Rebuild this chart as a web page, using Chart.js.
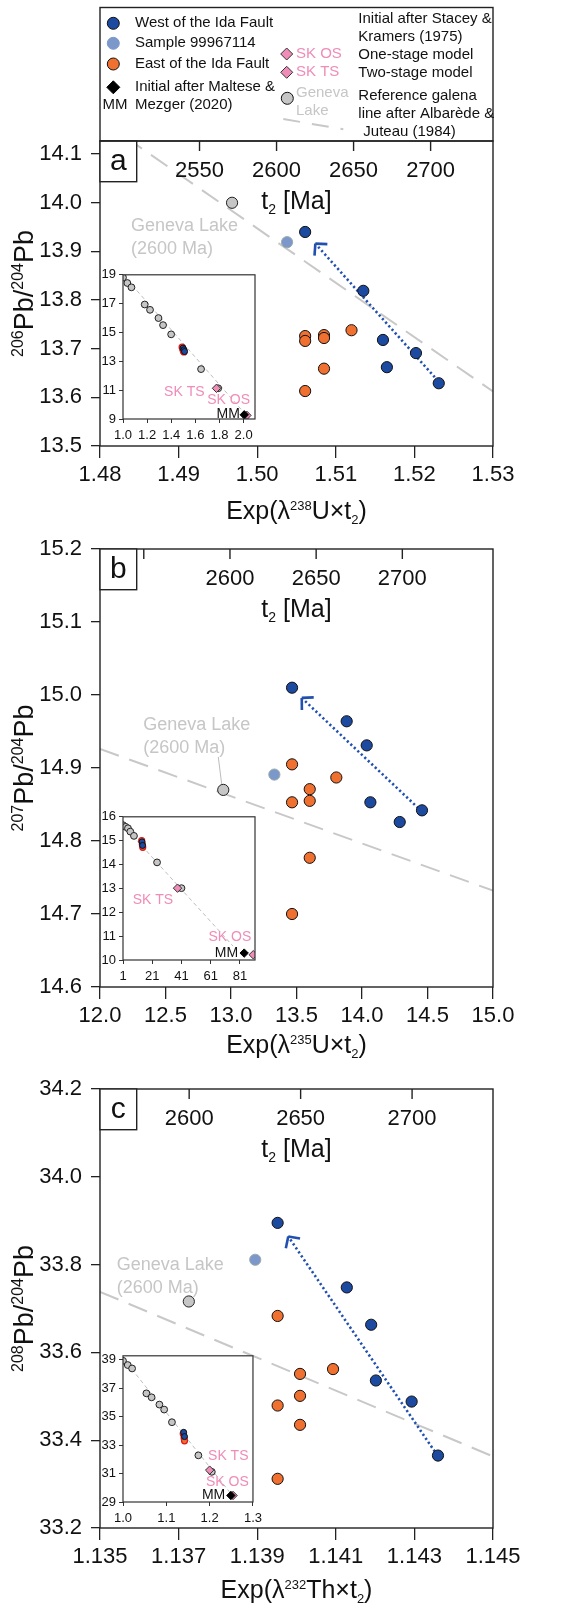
<!DOCTYPE html>
<html>
<head>
<meta charset="utf-8">
<script src="https://cdn.jsdelivr.net/npm/chart.js@4.4.1/dist/chart.umd.min.js"></script>
<style>
  body { margin: 0; background: #fff; }
  #page { position: relative; width: 582px; height: 1605px; overflow: hidden; background: #fff; }
  canvas { position: absolute; }
</style>
</head>
<body>
<div id="page">
  <canvas id="chartA" width="582" height="530" style="left:0px;top:0px"></canvas>
  <canvas id="chartB" width="582" height="550" style="left:0px;top:520px"></canvas>
  <canvas id="chartC" width="582" height="545" style="left:0px;top:1060px"></canvas>
  <canvas id="insetA"></canvas>
  <canvas id="insetB"></canvas>
  <canvas id="insetC"></canvas>
</div>
<script>
// ---- panel a : 206Pb/204Pb vs Exp(λ238U×t2)
const aWestX = [1.5061, 1.5135, 1.5160, 1.5165, 1.5202, 1.5231];
const aWestY = [13.940, 13.819, 13.718, 13.662, 13.691, 13.629];
const aEastX = [1.5061, 1.5061, 1.5085, 1.5085, 1.5085, 1.5120, 1.5061];
const aEastY = [13.726, 13.716, 13.728, 13.722, 13.659, 13.738, 13.613];
const aSampleX = [1.5038], aSampleY = [13.919];
const aGenevaX = [1.4968], aGenevaY = [14.000];
const aArrowX = [1.5230, 1.5074], aArrowY = [13.634, 13.916];
const aRefX = [1.48, 1.53], aRefY = [14.171, 13.612];
const aXTicks = [1.48, 1.49, 1.50, 1.51, 1.52, 1.53];
const aYTicks = [13.5, 13.6, 13.7, 13.8, 13.9, 14.0, 14.1];
const aTTicks = [2550, 2600, 2650, 2700];
const aTLabels = ["2550", "2600", "2650", "2700"];

// ---- panel b : 207Pb/204Pb vs Exp(λ235U×t2)
const bWestX = [13.466, 13.883, 14.036, 14.064, 14.288, 14.458];
const bWestY = [15.010, 14.964, 14.931, 14.853, 14.826, 14.842];
const bEastX = [13.466, 13.466, 13.601, 13.601, 13.804, 13.601, 13.466];
const bEastY = [14.905, 14.853, 14.871, 14.855, 14.887, 14.777, 14.700];
const bSampleX = [13.331], bSampleY = [14.891];
const bGenevaX = [12.941], bGenevaY = [14.870];
const bArrowX = [14.430, 13.540], bArrowY = [14.845, 14.996];
const bRefX = [12.0, 15.0], bRefY = [14.926, 14.732];
const bXTicks = [12.0, 12.5, 13.0, 13.5, 14.0, 14.5, 15.0];
const bYTicks = [14.6, 14.7, 14.8, 14.9, 15.0, 15.1, 15.2];
const bTTicks = [2550, 2600, 2650, 2700];
const bTLabels = ["", "2600", "2650", "2700"];

// ---- panel c : 208Pb/204Pb vs Exp(λ232Th×t2)
const cWestX = [1.13952, 1.14128, 1.14190, 1.14202, 1.14293, 1.14360];
const cWestY = [33.895, 33.748, 33.663, 33.536, 33.488, 33.365];
const cEastX = [1.13952, 1.14009, 1.14093, 1.14009, 1.13952, 1.14009, 1.13952];
const cEastY = [33.683, 33.551, 33.562, 33.501, 33.479, 33.435, 33.312];
const cSampleX = [1.13895], cSampleY = [33.811];
const cGenevaX = [1.13726], cGenevaY = [33.716];
const cArrowX = [1.14352, 1.13979], cArrowY = [33.374, 33.864];
const cRefX = [1.135, 1.145], cRefY = [33.738, 33.363];
const cXTicks = [1.135, 1.137, 1.139, 1.141, 1.143, 1.145];
const cYTicks = [33.2, 33.4, 33.6, 33.8, 34.0, 34.2];
const cTTicks = [2600, 2650, 2700];
const cTLabels = ["2600", "2650", "2700"];

// ---- insets (whole model range)
const iaGreyX = [1.0, 1.036, 1.070, 1.180, 1.224, 1.294, 1.332, 1.399, 1.647, 1.789];
const iaGreyY = [18.81, 18.43, 18.13, 16.94, 16.57, 16.00, 15.51, 14.87, 12.46, 11.13];
const iaEastX = [1.490, 1.495, 1.500, 1.505], iaEastY = [13.98, 13.85, 13.72, 13.65];
const iaWestX = [1.497, 1.505, 1.510], iaWestY = [13.92, 13.80, 13.68];
const iaTsX = [1.775], iaTsY = [11.13];
const iaOsX = [2.027], iaOsY = [9.25];
const iaMmX = [2.005], iaMmY = [9.29];
const iaLineX = [1.0, 2.025], iaLineY = [19.0, 9.23];
const iaXTicks = [1.0, 1.2, 1.4, 1.6, 1.8, 2.0];
const iaYTicks = [9, 11, 13, 15, 17, 19];

const ibGreyX = [1, 2.8, 4.4, 6.0, 8.5, 24.3, 41];
const ibGreyY = [15.65, 15.58, 15.52, 15.38, 15.20, 14.09, 13.01];
const ibEastX = [13.8, 14.2, 14.5], ibEastY = [15.00, 14.85, 14.72];
const ibWestX = [14.0, 14.4], ibWestY = [14.95, 14.80];
const ibTsX = [38.3], ibTsY = [13.01];
const ibOsX = [90.1], ibOsY = [10.22];
const ibMmX = [83.9], ibMmY = [10.29];
const ibLineX = [1, 76.3], ibLineY = [15.65, 10.58];
const ibXTicks = [1, 21, 41, 61, 81];
const ibYTicks = [10, 11, 12, 13, 14, 15, 16];

const icGreyX = [1.0, 1.011, 1.021, 1.054, 1.066, 1.084, 1.095, 1.113, 1.174, 1.205];
const icGreyY = [38.93, 38.63, 38.39, 36.64, 36.36, 35.85, 35.50, 34.61, 32.28, 31.12];
const icEastX = [1.139, 1.141, 1.142], icEastY = [33.80, 33.50, 33.30];
const icWestX = [1.140, 1.142], icWestY = [33.90, 33.60];
const icTsX = [1.200], icTsY = [31.24];
const icOsX = [1.254], icOsY = [29.46];
const icMmX = [1.249], icMmY = [29.46];
const icLineX = [1.0, 1.25], icLineY = [39.12, 29.55];
const icXTicks = [1.0, 1.1, 1.2, 1.3];
const icYTicks = [29, 31, 33, 35, 37, 39];

//

const FONT = "'Liberation Sans', Arial, sans-serif";
const BLUE = "#1c4aa0", LIGHT = "#7c98cb", ORANGE = "#f07030",
  GREY = "#c6c6c6", PINK = "#f08cb8", LINE = "#c8c8c8", ARROW = "#2250b0";
Chart.defaults.font.family = FONT;

const pts = (xs, ys) => xs.map((x, i) => ({ x: x, y: ys[i] }));
const fixTicks = (vals) => (scale) => {
  scale.ticks = vals.map((v) => ({ value: v }));
};

// text with super/subscripts: parts = [[text, "sup"|"sub"|undefined], ...]
const drawRich = (ctx, parts, cx, base, size, small) => {
  const w = parts.map(([t, k]) => {
    ctx.font = `${k ? small : size}px ${FONT}`;
    return ctx.measureText(t).width;
  });
  let x = cx - w.reduce((s, v) => s + v, 0) / 2;
  ctx.textAlign = "left";
  ctx.textBaseline = "alphabetic";
  parts.forEach(([t, k], i) => {
    ctx.font = `${k ? small : size}px ${FONT}`;
    const dy = k === "sup" ? -size * 0.38 : k === "sub" ? size * 0.2 : 0;
    ctx.fillText(t, x, base + dy);
    x += w[i];
  });
};

const dot = (ctx, x, y, r, fill, stroke) => {
  ctx.beginPath();
  ctx.arc(x, y, r, 0, Math.PI * 2);
  ctx.fillStyle = fill;
  ctx.fill();
  ctx.lineWidth = 1;
  ctx.strokeStyle = stroke;
  ctx.stroke();
};

const diamond = (ctx, x, y, r, fill, stroke) => {
  ctx.beginPath();
  ctx.moveTo(x, y - r);
  ctx.lineTo(x + r, y);
  ctx.lineTo(x, y + r);
  ctx.lineTo(x - r, y);
  ctx.closePath();
  ctx.fillStyle = fill;
  ctx.fill();
  ctx.lineWidth = 1;
  ctx.strokeStyle = stroke;
  ctx.stroke();
};

const line = (ctx, x1, y1, x2, y2) => {
  ctx.beginPath();
  ctx.moveTo(x1, y1);
  ctx.lineTo(x2, y2);
  ctx.stroke();
};

// legend above panel a
const legendPlugin = {
  id: "legendBox",
  afterDraw: (chart) => {
    const ctx = chart.ctx;
    ctx.save();
    ctx.strokeStyle = "#222";
    ctx.lineWidth = 1.4;
    ctx.strokeRect(100, 7.5, 393, 133.5);

    dot(ctx, 113.3, 23.3, 6, BLUE, "#111");
    dot(ctx, 113.3, 43.3, 6, LIGHT, LIGHT);
    dot(ctx, 113.3, 64, 6, ORANGE, "#111");
    diamond(ctx, 113.3, 87.3, 6.5, "#000", "#000");
    diamond(ctx, 286.7, 54, 6, PINK, "#333");
    diamond(ctx, 286.7, 72.3, 6, PINK, "#333");
    dot(ctx, 287.3, 98.3, 6, GREY, "#111");

    ctx.strokeStyle = LINE;
    ctx.lineWidth = 2;
    ctx.setLineDash([17, 12]);
    line(ctx, 283.3, 119, 343.3, 129.3);
    ctx.setLineDash([]);

    ctx.font = `15px ${FONT}`;
    ctx.textAlign = "left";
    ctx.textBaseline = "middle";
    ctx.fillStyle = "#111";
    [
      ["West of the Ida Fault", 135, 23.3],
      ["Sample 99967114", 135, 43.3],
      ["East of the Ida Fault", 135, 64],
      ["Initial after Maltese &", 135, 86.7],
      ["Mezger (2020)", 135, 104.7],
      ["MM", 102.5, 104.7],
      ["Initial after Stacey &", 358.3, 19],
      ["Kramers (1975)", 358.3, 36.7],
      ["One-stage model", 358.3, 55],
      ["Two-stage model", 358.3, 73.3],
      ["Reference galena", 358.3, 95.7],
      ["line after Albarède &", 358.3, 114],
      ["Juteau (1984)", 363.3, 131.7],
    ].forEach(([t, x, y]) => ctx.fillText(t, x, y));
    ctx.fillStyle = PINK;
    ctx.fillText("SK OS", 296, 54);
    ctx.fillText("SK TS", 296, 72.3);
    ctx.fillStyle = GREY;
    ctx.fillText("Geneva", 296, 93.3);
    ctx.fillText("Lake", 296, 110.5);
    ctx.restore();
  },
};

// frame, top t2 axis, titles, letter, labels, arrowhead
const panelPlugin = (p) => ({
  id: "panelDecor",
  afterDraw: (chart) => {
    const ctx = chart.ctx, a = chart.chartArea, t2 = chart.scales.t2;
    const cx = (a.left + a.right) / 2;
    ctx.save();
    ctx.strokeStyle = "#222";
    ctx.lineWidth = 1.4;
    ctx.strokeRect(a.left, a.top, a.right - a.left, a.bottom - a.top);

    ctx.fillStyle = "#111";
    p.tTicks.forEach((v, i) => {
      const x = t2.getPixelForValue(v);
      line(ctx, x, a.top, x, a.top + 10);
      ctx.font = `22px ${FONT}`;
      ctx.textAlign = "center";
      ctx.textBaseline = "alphabetic";
      ctx.fillText(p.tLabels[i], x, a.top + 36);
    });
    drawRich(ctx, [["t"], ["2", "sub"], [" [Ma]"]], cx, a.top + 68, 25, 14);
    drawRich(ctx, p.xTitle, cx, a.bottom + p.xTitleOff, 25, 13);

    ctx.save();
    ctx.translate(33, (a.top + a.bottom) / 2);
    ctx.rotate(-Math.PI / 2);
    drawRich(ctx, p.yTitle, 0, 0, 27, 16);
    ctx.restore();

    // panel letter
    ctx.fillStyle = "#fff";
    ctx.fillRect(a.left, a.top, 36.7, 40.7);
    ctx.strokeRect(a.left, a.top, 36.7, 40.7);
    ctx.fillStyle = "#111";
    ctx.font = `30px ${FONT}`;
    ctx.textAlign = "center";
    ctx.textBaseline = "middle";
    ctx.fillText(p.letter, a.left + 18.3, a.top + 21);

    // Geneva Lake label
    ctx.fillStyle = GREY;
    ctx.font = `18px ${FONT}`;
    ctx.textAlign = "left";
    ctx.fillText("Geneva Lake", a.left + p.gDx, a.top + p.gDy);
    ctx.fillText("(2600 Ma)", a.left + p.gDx, a.top + p.gDy + 22.7);
    if (p.leader) {
      const g = chart.getDatasetMeta(3).data[0];
      ctx.strokeStyle = "#bbb";
      ctx.lineWidth = 1;
      line(ctx, g.x - 5, g.y - 33, g.x - 1.6, g.y - 6);
    }

    // arrowhead at the end of the dotted trend
    const ar = chart.getDatasetMeta(4).data;
    const tip = ar[1], tail = ar[0];
    const ang = Math.atan2(tail.y - tip.y, tail.x - tip.x);
    ctx.strokeStyle = ARROW;
    ctx.lineWidth = 2.6;
    ctx.setLineDash([]);
    [-0.8, 0.8].forEach((d) => {
      line(ctx, tip.x, tip.y, tip.x + 12 * Math.cos(ang + d), tip.y + 12 * Math.sin(ang + d));
    });
    ctx.restore();
  },
});

const makePanel = (id, p) =>
  new Chart(document.getElementById(id), {
    type: "scatter",
    data: {
      datasets: [
        { label: "West of the Ida Fault", data: pts(p.westX, p.westY), backgroundColor: BLUE, borderColor: "#111", borderWidth: 1, pointRadius: 5.6 },
        { label: "East of the Ida Fault", data: pts(p.eastX, p.eastY), backgroundColor: ORANGE, borderColor: "#111", borderWidth: 1, pointRadius: 5.6 },
        { label: "Sample 99967114", data: pts(p.sampleX, p.sampleY), backgroundColor: LIGHT, borderColor: "#9aa", borderWidth: 1, pointRadius: 5.6 },
        { label: "Geneva Lake", data: pts(p.genevaX, p.genevaY), backgroundColor: GREY, borderColor: "#222", borderWidth: 1, pointRadius: 5.6 },
        { label: "trend", data: pts(p.arrowX, p.arrowY), showLine: true, borderColor: ARROW, borderWidth: 2.6, borderDash: [2.2, 2.6], pointRadius: 0 },
        { label: "reference galena line", data: pts(p.refX, p.refY), showLine: true, borderColor: LINE, borderWidth: 2, borderDash: [20, 11], pointRadius: 0 },
      ],
    },
    options: {
      responsive: false,
      animation: false,
      events: [],
      layout: { padding: { top: p.padTop, right: 89, left: 0, bottom: 0 } },
      plugins: { legend: { display: false }, tooltip: { enabled: false } },
      scales: {
        x: {
          type: "linear", position: "bottom", min: p.xMin, max: p.xMax,
          afterBuildTicks: fixTicks(p.xTicks),
          afterFit: (s) => { s.height = p.xAxisH; },
          grid: { drawOnChartArea: false, tickLength: 12, color: "#222", lineWidth: 1.3 },
          border: { display: false },
          ticks: { font: { size: 22 }, color: "#111", padding: 4, maxRotation: 0, autoSkip: false, callback: (v) => v.toFixed(p.xDec) },
        },
        y: {
          type: "linear", position: "left", min: p.yMin, max: p.yMax,
          afterBuildTicks: fixTicks(p.yTicks),
          afterFit: (s) => { s.width = 100; },
          grid: { drawOnChartArea: false, tickLength: 9, color: "#222", lineWidth: 1.3 },
          border: { display: false },
          ticks: { font: { size: 22 }, color: "#111", padding: 9, autoSkip: false, callback: (v) => v.toFixed(1) },
        },
        t2: {
          type: "linear", position: "top", min: p.tMin, max: p.tMax,
          afterFit: (s) => { s.height = 0; },
          grid: { display: false }, border: { display: false }, ticks: { display: false },
        },
      },
    },
    plugins: p.legend ? [panelPlugin(p), legendPlugin] : [panelPlugin(p)],
  });

makePanel("chartA", {
  westX: aWestX, westY: aWestY, eastX: aEastX, eastY: aEastY,
  sampleX: aSampleX, sampleY: aSampleY, genevaX: aGenevaX, genevaY: aGenevaY,
  arrowX: aArrowX, arrowY: aArrowY, refX: aRefX, refY: aRefY,
  xMin: 1.48, xMax: 1.53, yMin: 13.5, yMax: 14.127, tMin: 2485.4, tMax: 2740.5,
  xTicks: aXTicks, yTicks: aYTicks, tTicks: aTTicks, tLabels: aTLabels, xDec: 2,
  padTop: 141, xAxisH: 84, xTitleOff: 73, letter: "a", gDx: 31, gDy: 85, legend: true,
  xTitle: [["Exp(λ"], ["238", "sup"], ["U×t"], ["2", "sub"], [")"]],
  yTitle: [["206", "sup"], ["Pb/"], ["204", "sup"], ["Pb"]],
});

makePanel("chartB", {
  westX: bWestX, westY: bWestY, eastX: bEastX, eastY: bEastY,
  sampleX: bSampleX, sampleY: bSampleY, genevaX: bGenevaX, genevaY: bGenevaY,
  arrowX: bArrowX, arrowY: bArrowY, refX: bRefX, refY: bRefY,
  xMin: 12.0, xMax: 15.0, yMin: 14.6, yMax: 15.2, tMin: 2524.6, tMax: 2752.6,
  xTicks: bXTicks, yTicks: bYTicks, tTicks: bTTicks, tLabels: bTLabels, xDec: 1,
  padTop: 29, xAxisH: 83, xTitleOff: 66, letter: "b", gDx: 43.3, gDy: 176, leader: true,
  xTitle: [["Exp(λ"], ["235", "sup"], ["U×t"], ["2", "sub"], [")"]],
  yTitle: [["207", "sup"], ["Pb/"], ["204", "sup"], ["Pb"]],
});

makePanel("chartC", {
  westX: cWestX, westY: cWestY, eastX: cEastX, eastY: cEastY,
  sampleX: cSampleX, sampleY: cSampleY, genevaX: cGenevaX, genevaY: cGenevaY,
  arrowX: cArrowX, arrowY: cArrowY, refX: cRefX, refY: cRefY,
  xMin: 1.135, xMax: 1.145, yMin: 33.2, yMax: 34.2, tMin: 2560, tMax: 2736.3,
  xTicks: cXTicks, yTicks: cYTicks, tTicks: cTTicks, tLabels: cTLabels, xDec: 3,
  padTop: 29, xAxisH: 77, xTitleOff: 70, letter: "c", gDx: 16.7, gDy: 176,
  xTitle: [["Exp(λ"], ["232", "sup"], ["Th×t"], ["2", "sub"], [")"]],
  yTitle: [["208", "sup"], ["Pb/"], ["204", "sup"], ["Pb"]],
});

// ---- insets
const insetPlugin = (q) => ({
  id: "insetDecor",
  beforeDraw: (chart) => {
    const a = chart.chartArea;
    chart.ctx.fillStyle = "#fff";
    chart.ctx.fillRect(a.left, a.top, a.right - a.left, a.bottom - a.top);
  },
  afterDraw: (chart) => {
    const ctx = chart.ctx, a = chart.chartArea;
    const sx = chart.scales.x, sy = chart.scales.y;
    ctx.save();
    ctx.strokeStyle = "#333";
    ctx.lineWidth = 1.2;
    ctx.strokeRect(a.left, a.top, a.right - a.left, a.bottom - a.top);
    ctx.font = `14px ${FONT}`;
    ctx.textAlign = "center";
    ctx.textBaseline = "middle";
    q.labels.forEach(([t, x, y, c]) => {
      ctx.fillStyle = c;
      ctx.fillText(t, sx.getPixelForValue(x), sy.getPixelForValue(y));
    });
    ctx.restore();
  },
});

const makeInset = (id, box, q) => {
  const cv = document.getElementById(id);
  const yW = 22, padT = 10, padR = 12, xH = 30;
  cv.width = box.right - box.left + yW + padR;
  cv.height = box.bottom - box.top + padT + xH;
  cv.style.left = box.left - yW + "px";
  cv.style.top = box.top - padT + "px";
  return new Chart(cv, {
    type: "scatter",
    data: {
      datasets: [
        { label: "MM", data: pts(q.mmX, q.mmY), pointStyle: "rectRot", backgroundColor: "#000", borderColor: "#000", borderWidth: 1, pointRadius: 4.2 },
        { label: "SK OS", data: pts(q.osX, q.osY), pointStyle: "rectRot", backgroundColor: PINK, borderColor: "#333", borderWidth: 1, pointRadius: 4.2 },
        { label: "SK TS", data: pts(q.tsX, q.tsY), pointStyle: "rectRot", backgroundColor: PINK, borderColor: "#333", borderWidth: 1, pointRadius: 4.2 },
        { label: "West", data: pts(q.westX, q.westY), backgroundColor: BLUE, borderColor: "#111", borderWidth: 1, pointRadius: 3 },
        { label: "East", data: pts(q.eastX, q.eastY), backgroundColor: ORANGE, borderColor: "#e01818", borderWidth: 1.2, pointRadius: 3 },
        { label: "galena", data: pts(q.greyX, q.greyY), backgroundColor: GREY, borderColor: "#222", borderWidth: 1, pointRadius: 3.4 },
        { label: "line", data: pts(q.lineX, q.lineY), showLine: true, borderColor: "#bdbdbd", borderWidth: 1, borderDash: [4, 3], pointRadius: 0 },
      ],
    },
    options: {
      responsive: false,
      animation: false,
      events: [],
      layout: { padding: { top: padT, right: padR, left: 0, bottom: 0 } },
      plugins: { legend: { display: false }, tooltip: { enabled: false } },
      scales: {
        x: {
          type: "linear", position: "bottom", min: q.xMin, max: q.xMax,
          afterBuildTicks: fixTicks(q.xTicks),
          afterFit: (s) => { s.height = xH; },
          grid: { drawOnChartArea: false, tickLength: 4, color: "#333" },
          border: { display: false },
          ticks: { font: { size: 13 }, color: "#111", padding: 5, maxRotation: 0, autoSkip: false, callback: (v) => v.toFixed(q.xDec) },
        },
        y: {
          type: "linear", position: "left", min: q.yMin, max: q.yMax,
          afterBuildTicks: fixTicks(q.yTicks),
          afterFit: (s) => { s.width = yW; },
          grid: { drawOnChartArea: false, tickLength: 4, color: "#333" },
          border: { display: false },
          ticks: { font: { size: 13 }, color: "#111", padding: 3, autoSkip: false, callback: (v) => String(v) },
        },
      },
    },
    plugins: [insetPlugin(q)],
  });
};

makeInset("insetA", { left: 123, top: 274, right: 255, bottom: 419 }, {
  greyX: iaGreyX, greyY: iaGreyY, eastX: iaEastX, eastY: iaEastY, westX: iaWestX, westY: iaWestY,
  tsX: iaTsX, tsY: iaTsY, osX: iaOsX, osY: iaOsY, mmX: iaMmX, mmY: iaMmY, lineX: iaLineX, lineY: iaLineY,
  xMin: 1.0, xMax: 2.094, yMin: 9, yMax: 19, xTicks: iaXTicks, yTicks: iaYTicks, xDec: 1,
  labels: [["SK TS", 1.508, 10.88, PINK], ["SK OS", 1.875, 10.33, PINK], ["MM", 1.872, 9.36, "#111"]],
});

makeInset("insetB", { left: 123, top: 816, right: 255, bottom: 960 }, {
  greyX: ibGreyX, greyY: ibGreyY, eastX: ibEastX, eastY: ibEastY, westX: ibWestX, westY: ibWestY,
  tsX: ibTsX, tsY: ibTsY, osX: ibOsX, osY: ibOsY, mmX: ibMmX, mmY: ibMmY, lineX: ibLineX, lineY: ibLineY,
  xMin: 1, xMax: 91.3, yMin: 10, yMax: 16, xTicks: ibXTicks, yTicks: ibYTicks, xDec: 0,
  labels: [["SK TS", 21.5, 12.52, PINK], ["SK OS", 74.1, 10.97, PINK], ["MM", 71.8, 10.28, "#111"]],
});

makeInset("insetC", { left: 123, top: 1355, right: 255, bottom: 1502 }, {
  greyX: icGreyX, greyY: icGreyY, eastX: icEastX, eastY: icEastY, westX: icWestX, westY: icWestY,
  tsX: icTsX, tsY: icTsY, osX: icOsX, osY: icOsY, mmX: icMmX, mmY: icMmY, lineX: icLineX, lineY: icLineY,
  xMin: 1.0, xMax: 1.3, yMin: 29, yMax: 39.28, xTicks: icXTicks, yTicks: icYTicks, xDec: 1,
  labels: [["SK TS", 1.243, 32.2, PINK], ["SK OS", 1.241, 30.4, PINK], ["MM", 1.209, 29.47, "#111"]],
});
</script>
</body>
</html>
